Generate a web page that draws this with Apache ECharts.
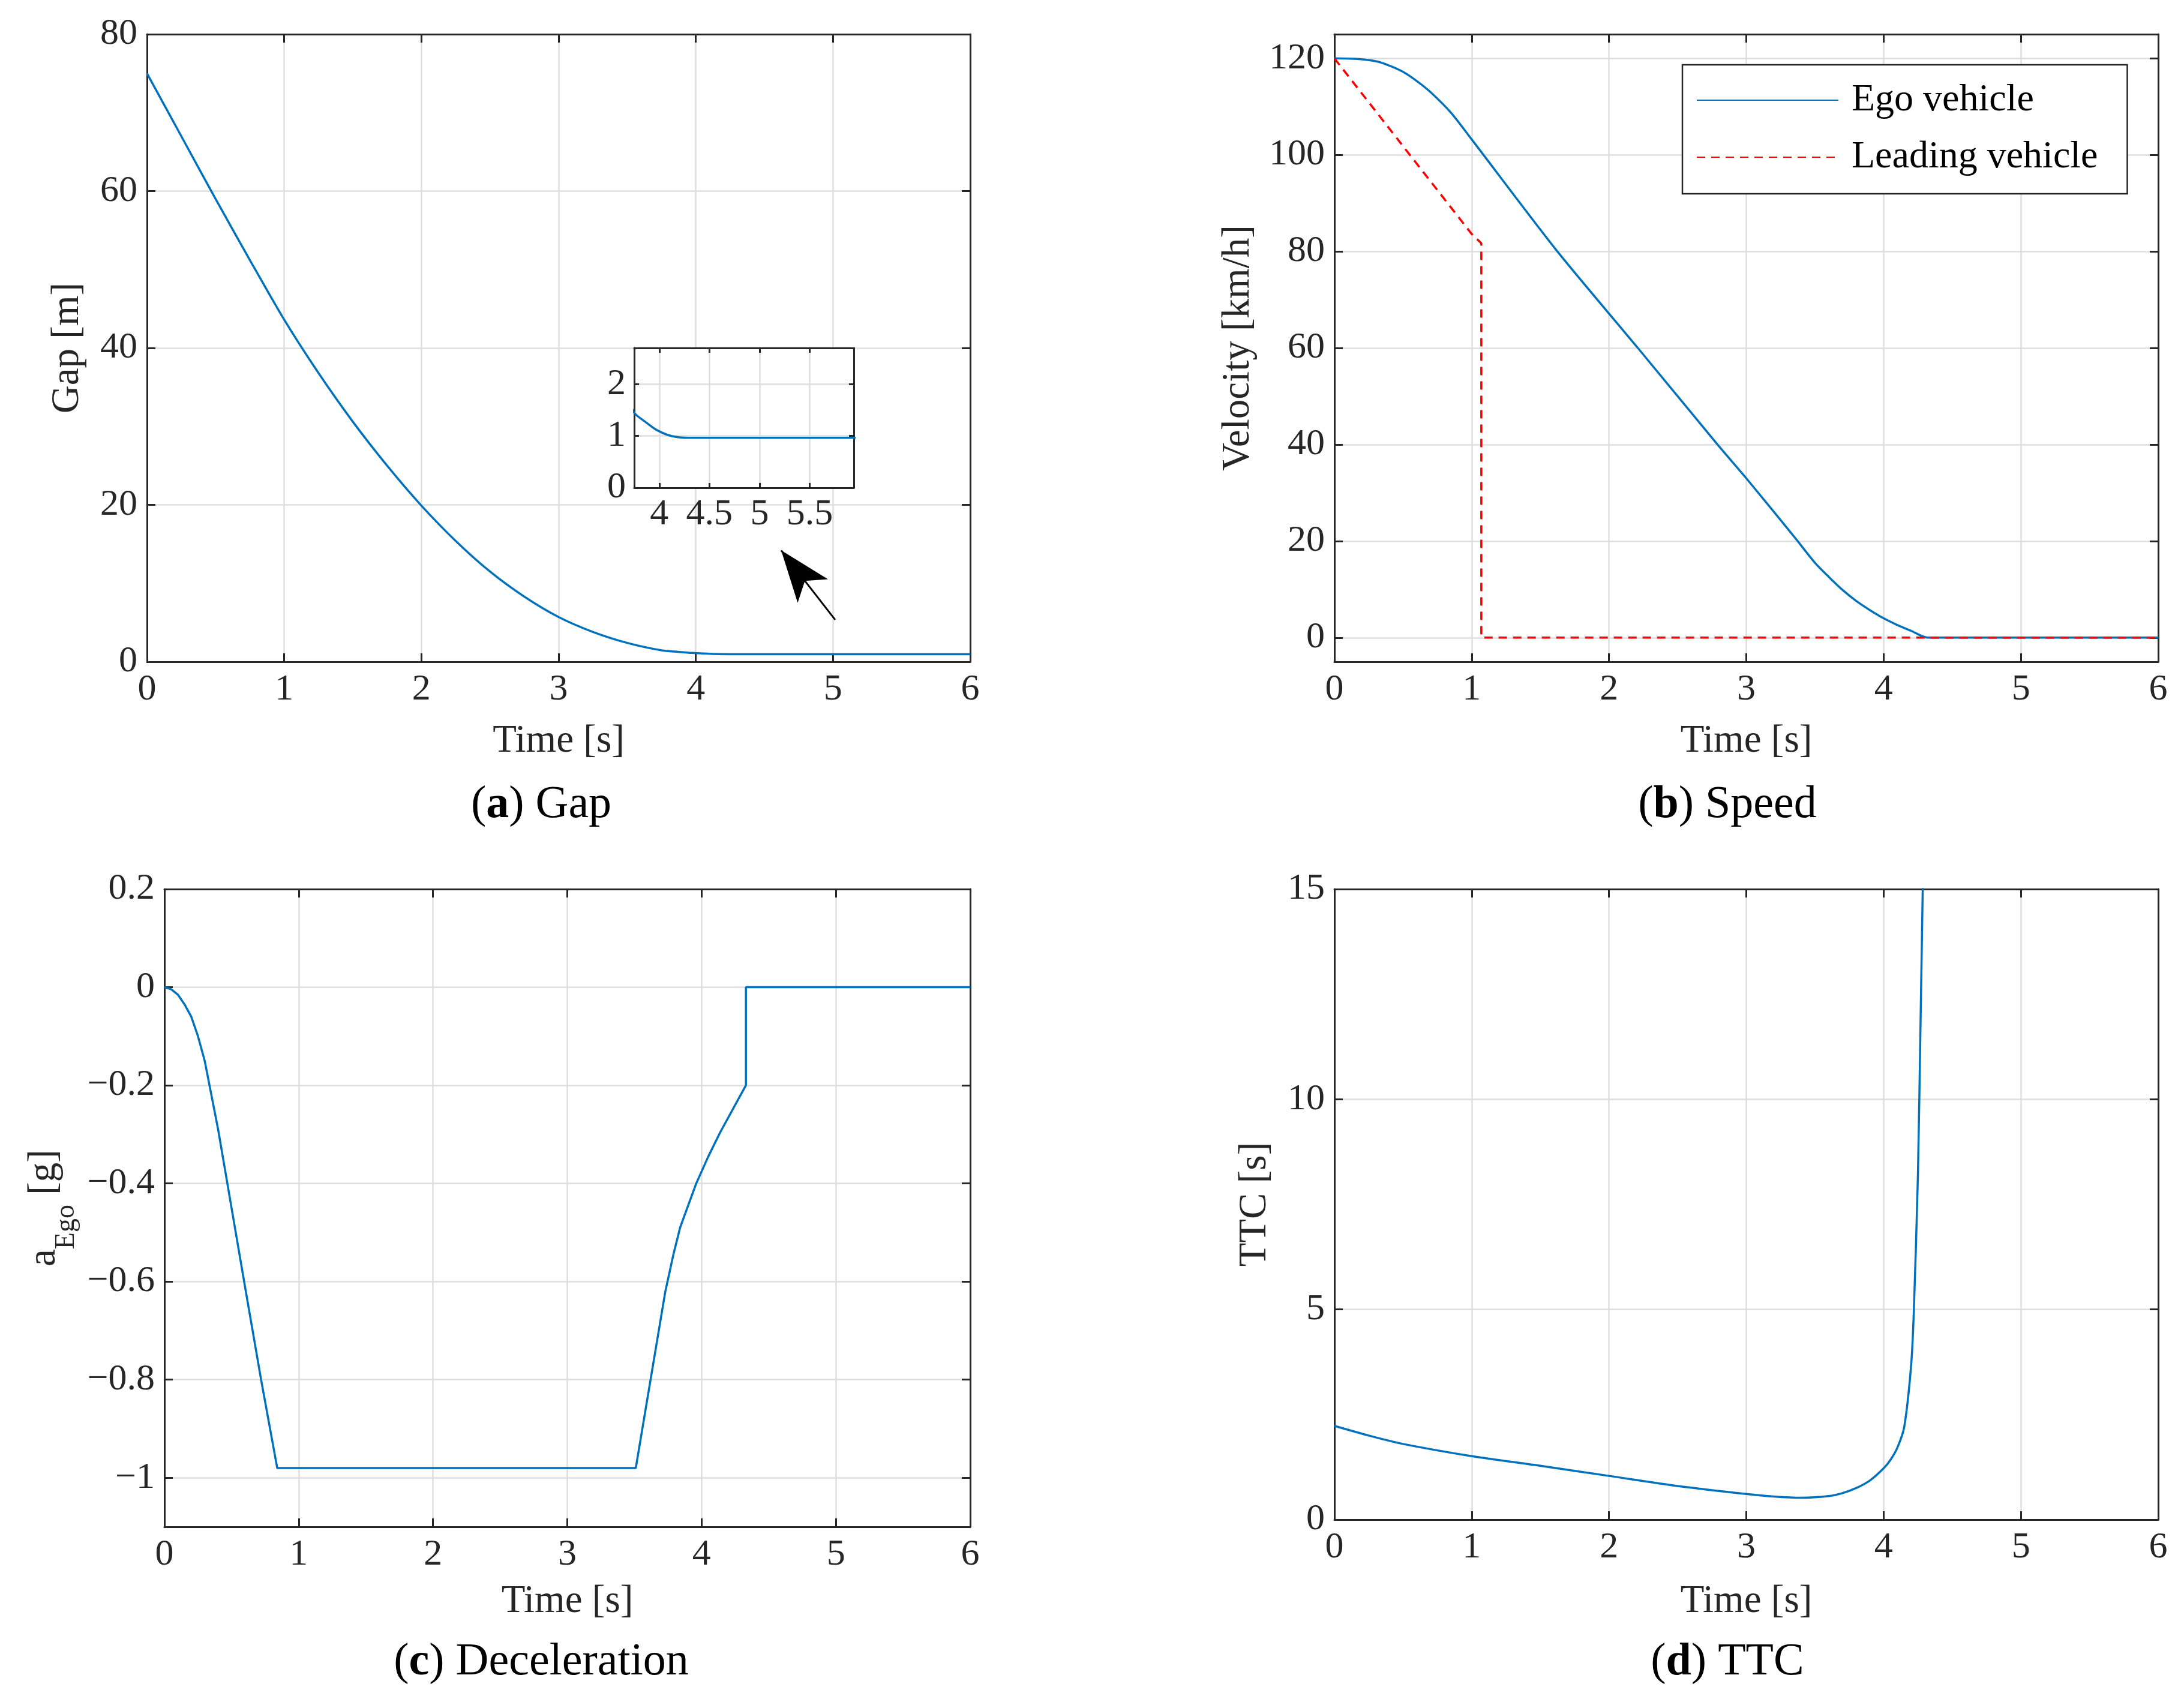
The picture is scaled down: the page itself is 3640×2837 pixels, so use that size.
<!DOCTYPE html>
<html><head><meta charset="utf-8">
<script src="https://cdn.jsdelivr.net/npm/echarts@6/dist/echarts.min.js"></script>
<style>html,body{margin:0;padding:0;background:#fff}#c{width:3640px;height:2837px}</style>
</head><body><div id="c"></div>
<script>
const FONT = 'Liberation Serif';
const INK = '#262626';
const BLUE = '#0072BD';
const RED = '#FF0000';
const GRIDC = '#dedede';

// (a) Gap [m]
const gapTime  = [0, 0.25, 0.5, 0.75, 1.0, 1.25, 1.5, 1.75, 2.0, 2.25, 2.5, 2.75, 3.0, 3.25, 3.5, 3.75, 3.87, 3.97, 4.12, 4.29, 6.0];
const gapValue = [75, 67, 59, 51.2, 43.6, 36.8, 30.6, 25.0, 19.9, 15.4, 11.5, 8.3, 5.7, 3.8, 2.4, 1.45, 1.26, 1.12, 1.0, 0.965, 0.965];

// (b) Speed [km/h]
const egoTime   = [0, 0.15, 0.3, 0.4, 0.5, 0.6, 0.7, 0.85, 1.0, 1.61, 2.21, 2.79, 3.0, 3.36, 3.5, 3.6, 3.7, 3.8, 3.9, 4.0, 4.1, 4.2, 4.32, 6.0];
const egoValue  = [120, 119.9, 119.4, 118.5, 117.2, 115.3, 113.0, 108.7, 103.2, 80.5, 60, 40, 33, 20.5, 15.5, 12.6, 9.9, 7.6, 5.7, 4.0, 2.6, 1.4, 0, 0];
const leadTime  = [0, 1.0, 1.07, 1.07, 6.0];
const leadValue = [120, 83.6, 81.7, 0, 0];

// (c) Deceleration [g]
const accTime  = [0, 0.05, 0.1, 0.15, 0.2, 0.25, 0.3, 0.4, 0.5, 0.6, 0.72, 0.84, 3.51, 3.62, 3.73, 3.79, 3.84, 3.9, 3.96, 4.05, 4.14, 4.24, 4.33, 4.33, 6.0];
const accValue = [0, -0.004, -0.015, -0.035, -0.06, -0.1, -0.15, -0.29, -0.45, -0.61, -0.8, -0.98, -0.98, -0.8, -0.62, -0.545, -0.49, -0.445, -0.4, -0.345, -0.295, -0.245, -0.2, 0, 0];

// (d) TTC [s]
const ttcTime  = [0, 0.25, 0.5, 1.0, 1.5, 2.0, 2.5, 3.0, 3.2, 3.4, 3.6, 3.7, 3.8, 3.9, 4.0, 4.05, 4.1, 4.15, 4.2, 4.22, 4.25, 4.27, 4.29];
const ttcValue = [2.23, 2.0, 1.8, 1.51, 1.28, 1.04, 0.8, 0.61, 0.55, 0.52, 0.56, 0.63, 0.75, 0.93, 1.22, 1.42, 1.71, 2.2, 3.65, 4.94, 8.2, 12, 16];

// annotation arrow (data coords of panel a): tail -> tip
const arrowFrom = [5.016, 5.35];
const arrowTo   = [4.622, 14.2];

const legendNames = ['Ego vehicle', 'Leading vehicle'];
const captions = [['a', 'Gap'], ['b', 'Speed'], ['c', 'Deceleration'], ['d', 'TTC']];

function zip(xs, ys) { return xs.map((x, i) => [x, ys[i]]); }
function minusFmt(v) { const n = Number(v.toFixed(2)); return n < 0 ? '\u2212' + Math.abs(n) : String(n); }

const xAxes = [], yAxes = [];
function axis(g, pos, sc, main, name) {
  const a = {
    type: 'value', gridIndex: g, position: pos,
    min: sc.min, max: sc.max,
    axisLine: {show: true, onZero: false, lineStyle: {color: INK, width: 3}},
    axisTick: {show: true, inside: true, length: sc.tick || 14, lineStyle: {color: INK, width: 3}},
    axisLabel: {show: main, color: INK, fontFamily: FONT, fontSize: 62, margin: sc.margin || 16},
    splitLine: {show: main, lineStyle: {color: GRIDC, width: 2.5}},
    z: sc.z || 0
  };
  if (sc.hideEnds) { a.axisLabel.showMinLabel = false; a.axisLabel.showMaxLabel = false; }
  if (sc.hideMin) { a.axisLabel.showMinLabel = false; }
  if (sc.interval != null) a.interval = sc.interval;
  if (sc.splitNumber != null) a.splitNumber = sc.splitNumber;
  if (sc.fmt) a.axisLabel.formatter = sc.fmt;
  if (main && name) {
    a.name = name.text;
    a.nameLocation = 'middle';
    a.nameGap = name.gap;
    a.nameTextStyle = Object.assign({color: INK, fontFamily: FONT, fontSize: 65}, name.style || {});
  }
  return a;
}
function addGrid(g, xs, ys, xname, yname) {
  xAxes.push(axis(g, 'bottom', xs, true, xname));
  xAxes.push(axis(g, 'top', xs, false));
  yAxes.push(axis(g, 'left', ys, true, yname));
  yAxes.push(axis(g, 'right', ys, false));
}

const grids = [
  {left: 245, top: 57, width: 1372, height: 1046},
  {left: 2224, top: 57, width: 1373, height: 1046},
  {left: 274, top: 1482, width: 1343, height: 1063},
  {left: 2224, top: 1482, width: 1373, height: 1051},
  {left: 1057, top: 580, width: 366, height: 233, show: true, backgroundColor: '#fff', borderWidth: 0, z: 1}
];

addGrid(0, {min: 0, max: 6, interval: 1}, {min: 0, max: 80, interval: 20},
  {text: 'Time [s]', gap: 100}, {text: 'Gap [m]', gap: 100});
addGrid(1, {min: 0, max: 6, interval: 1}, {min: -5, max: 125, splitNumber: 7, hideEnds: true},
  {text: 'Time [s]', gap: 100}, {text: 'Velocity [km/h]', gap: 128});
addGrid(2, {min: 0, max: 6, interval: 1}, {min: -1.1, max: 0.2, splitNumber: 6, fmt: minusFmt, hideMin: true},
  {text: 'Time [s]', gap: 92},
  {text: '{a|a}{s|Ego}{a| [g]}', gap: 140,
   style: {rich: {a: {fontFamily: FONT, fontSize: 65, color: INK, lineHeight: 120, verticalAlign: 'middle'},
                  s: {fontFamily: FONT, fontSize: 46, color: INK, lineHeight: 46, verticalAlign: 'bottom'}}}});
addGrid(3, {min: 0, max: 6, interval: 1}, {min: 0, max: 15, interval: 5},
  {text: 'Time [s]', gap: 104}, {text: 'TTC [s]', gap: 100});
addGrid(4, {min: 3.75, max: 5.94, splitNumber: 4, hideEnds: true, tick: 8, z: 2, margin: 14},
  {min: 0, max: 2.7, interval: 1, tick: 8, z: 2, margin: 14});
yAxes[8].axisLabel.showMaxLabel = false;

const SMOOTH = 0.25;
const series = [
  {name: 'gap', type: 'line', xAxisIndex: 0, yAxisIndex: 0, data: zip(gapTime, gapValue), symbol: 'none', smooth: SMOOTH,
   lineStyle: {color: BLUE, width: 3.5}, itemStyle: {color: BLUE},
   markLine: {silent: true, symbol: ['none', 'arrow'], symbolSize: [48, 86],
     lineStyle: {color: '#000', width: 3, type: 'solid'}, itemStyle: {color: '#000'},
     label: {show: false},
     data: [[{coord: arrowFrom}, {coord: arrowTo}]]}},
  {name: 'gap-inset', type: 'line', xAxisIndex: 8, yAxisIndex: 8, data: zip(gapTime, gapValue), symbol: 'none', smooth: SMOOTH,
   lineStyle: {color: BLUE, width: 3.5}, itemStyle: {color: BLUE}, z: 5},
  {name: legendNames[0], type: 'line', xAxisIndex: 2, yAxisIndex: 2, data: zip(egoTime, egoValue), symbol: 'none', smooth: SMOOTH,
   lineStyle: {color: BLUE, width: 3.5}, itemStyle: {color: BLUE}},
  {name: legendNames[1], type: 'line', xAxisIndex: 2, yAxisIndex: 2, data: zip(leadTime, leadValue), symbol: 'none',
   lineStyle: {color: RED, width: 3.5, type: [14, 10]}, itemStyle: {color: RED}},
  {name: 'acc', type: 'line', xAxisIndex: 4, yAxisIndex: 4, data: zip(accTime, accValue), symbol: 'none',
   lineStyle: {color: BLUE, width: 3.5}, itemStyle: {color: BLUE}},
  {name: 'ttc', type: 'line', xAxisIndex: 6, yAxisIndex: 6, data: zip(ttcTime, ttcValue), symbol: 'none', smooth: SMOOTH,
   lineStyle: {color: BLUE, width: 3.5}, itemStyle: {color: BLUE}}
];

const capPos = [[902, 1342], [2879, 1342], [902, 2771], [2879, 2771]];
const graphic = captions.map((c, i) => ({
  type: 'text', x: capPos[i][0], y: capPos[i][1],
  style: {text: '({b|' + c[0] + '}) ' + c[1], textAlign: 'center', textVerticalAlign: 'middle',
    fontFamily: FONT, fontSize: 76, fill: '#000',
    rich: {b: {fontFamily: FONT, fontSize: 76, fontWeight: 'bold', fill: '#000'}}}
}));

const chart = echarts.init(document.getElementById('c'), null, {renderer: 'canvas'});
chart.setOption({
  animation: false,
  backgroundColor: '#fff',
  grid: grids,
  xAxis: xAxes,
  yAxis: yAxes,
  legend: {
    data: legendNames, orient: 'vertical', left: 2804, top: 108,
    backgroundColor: '#fff', borderColor: INK, borderWidth: 2.5,
    padding: [27, 49, 29, 23], itemWidth: 236, itemHeight: 3, itemGap: 31,
    itemStyle: {opacity: 0},
    textStyle: {fontFamily: FONT, fontSize: 64, color: '#000', lineHeight: 64, padding: [0, 0, 0, 17]}
  },
  graphic: graphic,
  series: series
});
</script></body></html>
